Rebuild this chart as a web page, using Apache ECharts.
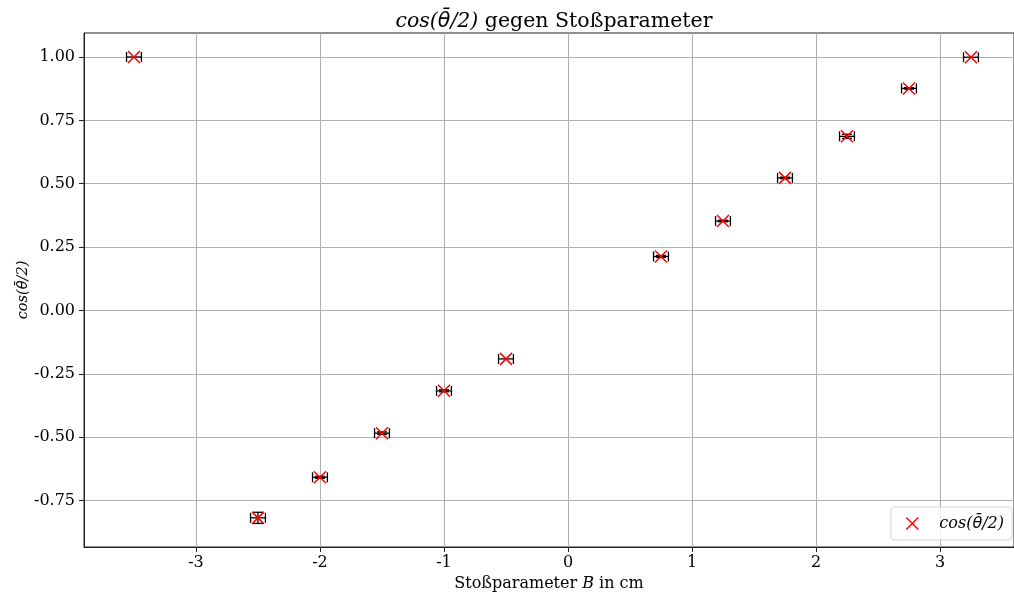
<!DOCTYPE html>
<html>
<head>
<meta charset="utf-8">
<script src="https://cdn.jsdelivr.net/npm/echarts@6/dist/echarts.min.js"></script>
<style>
html,body{margin:0;padding:0;background:#fff;}
#chart{width:1014px;height:597px;}
</style>
</head>
<body>
<div id="chart"></div>
<script>
const xValues = [-3.5, -2.5, -2.0, -1.5, -1.0, -0.5, 0.75, 1.25, 1.75, 2.25, 2.75, 3.25];
const yValues = [1.0, -0.818, -0.658, -0.484, -0.317, -0.191, 0.213, 0.353, 0.523, 0.687, 0.876, 0.999];
const xErrors = [0.06, 0.06, 0.06, 0.06, 0.06, 0.06, 0.06, 0.06, 0.06, 0.06, 0.06, 0.06];
const yErrors = [0.0, 0.022, 0.004, 0.005, 0.004, 0.0, 0.004, 0.003, 0.003, 0.008, 0.003, 0.0];
const xTicks = [-3, -2, -1, 0, 1, 2, 3];
const yTicks = [-0.75, -0.5, -0.25, 0, 0.25, 0.5, 0.75, 1.0];

const FONT = 'DejaVu Serif';
const THETA_PLAIN = 'cos(\u03B8\u0304/2)';
const THETA_RICH = '{m|cos(}{t|\u03B8\u0304}{m|/2)}';

const scatterData = xValues.map((x, i) => [x, yValues[i]]);
const errData = xValues.map((x, i) => [x, yValues[i], xErrors[i], yErrors[i]]);

const chart = echarts.init(document.getElementById('chart'), null, {renderer: 'canvas'});

const xMark = 'path://M0,0L10,10M10,0L0,10';
const mathRich = (size) => ({
  m: { fontFamily: FONT, fontStyle: 'italic', fontSize: size, color: '#000' },
  t: { fontFamily: 'DejaVu Sans', fontStyle: 'italic', fontSize: size, color: '#000' }
});

chart.setOption({
  backgroundColor: '#ffffff',
  animation: false,
  title: {
    text: THETA_RICH + ' gegen Stoßparameter',
    left: 549, top: 6, textAlign: 'center',
    textStyle: {
      fontFamily: FONT, fontSize: 20.5, fontWeight: 'normal', color: '#000',
      rich: mathRich(20.5)
    }
  },
  grid: { left: 84, right: 0, top: 33, bottom: 50, containLabel: false,
          show: true, borderColor: '#222', borderWidth: 1 },
  legend: {
    right: 2, bottom: 57,
    itemWidth: 12, itemHeight: 12, itemGap: 10,
    padding: [8, 8, 8, 13],
    borderColor: '#d6d6d6', borderWidth: 1, borderRadius: 4,
    backgroundColor: 'rgba(255,255,255,0.8)',
    data: [{ name: THETA_PLAIN, icon: xMark, itemStyle: { color: 'none', borderColor: '#ff0000', borderWidth: 1.5 } }],
    formatter: () => THETA_RICH,
    textStyle: { fontFamily: FONT, fontSize: 16, color: '#000', padding: [0, 0, 0, 16],
      rich: mathRich(16) }
  },
  xAxis: {
    type: 'value', min: -3.903, max: 3.597,
    name: 'Stoßparameter {m|B} in cm', nameLocation: 'middle', nameGap: 28,
    nameTextStyle: { fontFamily: FONT, fontSize: 16, color: '#000', rich: mathRich(16) },
    axisLine: { show: true, onZero: false, lineStyle: { color: '#222', width: 1 } },
    axisTick: { show: true, length: 5, customValues: xTicks, lineStyle: { color: '#222' } },
    axisLabel: { customValues: xTicks, fontFamily: FONT, fontSize: 16, color: '#000', margin: 8,
      formatter: v => String(v) },
    splitLine: { show: true, lineStyle: { color: '#b0b0b0', width: 1 } }
  },
  yAxis: {
    type: 'value', min: -0.933, max: 1.0946,
    name: THETA_RICH, nameLocation: 'middle', nameGap: 53, nameRotate: 90,
    nameMoveOverlap: false,
    nameTextStyle: { fontFamily: FONT, fontStyle: 'italic', fontSize: 14.5, color: '#000', rich: mathRich(14.5) },
    axisLine: { show: true, onZero: false, lineStyle: { color: '#222', width: 1 } },
    axisTick: { show: true, length: 5, customValues: yTicks, lineStyle: { color: '#222' } },
    axisLabel: { customValues: yTicks, fontFamily: FONT, fontSize: 16, color: '#000', margin: 9,
      formatter: v => v.toFixed(2) },
    splitLine: { show: true, lineStyle: { color: '#b0b0b0', width: 1 } }
  },
  series: [
    {
      type: 'custom',
      name: 'err',
      data: errData,
      z: 2,
      renderItem: function (params, api) {
        const x = api.value(0), y = api.value(1), dx = api.value(2), dy = api.value(3);
        const l = api.coord([x - dx, y]);
        const r = api.coord([x + dx, y]);
        const t = api.coord([x, y + dy]);
        const b = api.coord([x, y - dy]);
        const cap = 5;
        const st = { stroke: '#000', lineWidth: 1.3 };
        const children = [
          { type: 'line', shape: { x1: l[0], y1: l[1], x2: r[0], y2: r[1] }, style: st },
          { type: 'line', shape: { x1: l[0], y1: l[1] - cap, x2: l[0], y2: l[1] + cap }, style: st },
          { type: 'line', shape: { x1: r[0], y1: r[1] - cap, x2: r[0], y2: r[1] + cap }, style: st }
        ];
        if (dy > 0) {
          children.push(
            { type: 'line', shape: { x1: t[0], y1: t[1], x2: b[0], y2: b[1] }, style: st },
            { type: 'line', shape: { x1: t[0] - cap, y1: t[1], x2: t[0] + cap, y2: t[1] }, style: st },
            { type: 'line', shape: { x1: b[0] - cap, y1: b[1], x2: b[0] + cap, y2: b[1] }, style: st }
          );
        }
        return { type: 'group', children: children };
      }
    },
    {
      type: 'scatter',
      name: THETA_PLAIN,
      data: scatterData,
      symbol: xMark,
      symbolSize: 12,
      z: 3,
      itemStyle: { color: 'none', borderColor: '#ff0000', borderWidth: 1.5, opacity: 1 }
    }
  ]
});
</script>
</body>
</html>
